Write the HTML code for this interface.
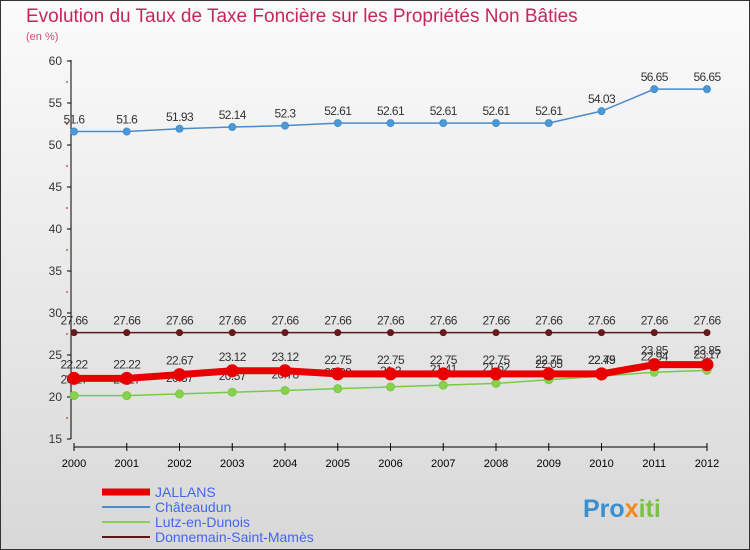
<!DOCTYPE html>
<html><head><meta charset="utf-8"><style>
body{margin:0;width:750px;height:550px;overflow:hidden;font-family:"Liberation Sans",sans-serif}
#wrap{position:absolute;left:0;top:0;width:748px;height:548px;border:1px solid #333;background:linear-gradient(#fbfbfb,#d8d8d8)}
</style></head><body>
<div id="wrap">
<svg id="chart" width="750" height="550" style="position:absolute;left:-1px;top:-1px">
<text x="26" y="22" font-size="19" fill="#c8265a">Evolution du Taux de Taxe Foncière sur les Propriétés Non Bâties</text>
<text x="26" y="40" font-size="11" fill="#d24a78">(en %)</text>
<g id="axes"></g><g id="series"></g><g id="legend"></g>
<text x="583" y="517" font-size="25" font-weight="bold" fill="#3a8fd0">Pro<tspan fill="#f08a1c">x</tspan><tspan fill="#7cc242">iti</tspan></text>
</svg></div>
<script>
const years=['2000','2001','2002','2003','2004','2005','2006','2007','2008','2009','2010','2011','2012'];
const yTicks=[15,20,25,30,35,40,45,50,55,60];
const jallans=[22.22,22.22,22.67,23.12,23.12,22.75,22.75,22.75,22.75,22.75,22.75,23.85,23.85];
const chateaudun=[51.6,51.6,51.93,52.14,52.3,52.61,52.61,52.61,52.61,52.61,54.03,56.65,56.65];
const lutz=[20.17,20.17,20.37,20.57,20.78,20.99,21.2,21.41,21.62,22.05,22.49,22.94,23.17];
const donnemain=[27.66,27.66,27.66,27.66,27.66,27.66,27.66,27.66,27.66,27.66,27.66,27.66,27.66];
const NS='http://www.w3.org/2000/svg';
const x=i=>74+i*52.75, y=v=>439-(v-15)*(378/45);
function mk(t,a,p){const e=document.createElementNS(NS,t);for(const k in a)e.setAttribute(k,a[k]);p.appendChild(e);return e;}
const ax=document.getElementById('axes');
let l=mk('line',{x1:71,y1:60,x2:71,y2:439,stroke:'#000'},ax);

l=mk('line',{x1:74,y1:447,x2:707,y2:447,stroke:'#000'},ax);

yTicks.forEach(v=>{mk('line',{x1:67,y1:y(v),x2:71,y2:y(v),stroke:'#000'},ax);
 if(v<60) mk('line',{x1:66,y1:y(v+2.5),x2:68,y2:y(v+2.5),stroke:'#d00'},ax);
 const t=mk('text',{x:62,y:y(v)+4,'font-size':12,'text-anchor':'end',fill:'#333'},ax);t.textContent=v;
 });
years.forEach((yr,i)=>{mk('line',{x1:x(i),y1:443,x2:x(i),y2:451,stroke:'#000'},ax);
 const t=mk('text',{x:x(i),y:467,'font-size':11,'text-anchor':'middle',fill:'#000'},ax);t.textContent=yr;
 });
const sg=document.getElementById('series');
function draw(name,arr,color,w,r,fill,lab){
 const g=mk('g',{},sg);
 const p=mk('polyline',{points:arr.map((v,i)=>x(i)+','+y(v)).join(' '),fill:'none',stroke:color,'stroke-width':w},g);
 
 arr.forEach((v,i)=>{const c=mk('circle',{cx:x(i),cy:y(v),r:r,fill:fill,stroke:color,'stroke-width':1},g);
  
  const t=mk('text',{x:x(i),y:y(v)-(lab||8),'font-size':12,'text-anchor':'middle',fill:'#333','letter-spacing':'-0.6'},g);t.textContent=v;
  });
}
draw('donnemain',donnemain,'#5a1a1a',1.5,3,'#6b1a1a');
draw('chateaudun',chateaudun,'#4a8cc8',1.5,3.5,'#4a9ad8');
draw('lutz',lutz,'#77cc44',1.5,4,'#88d050',12);
draw('jallans',jallans,'#e80000',7,6,'#e80000',10);
const lg=document.getElementById('legend');
[['JALLANS','#e80000',7],['Châteaudun','#4a8cc8',2],['Lutz-en-Dunois','#88d050',2],['Donnemain-Saint-Mamès','#5a1a1a',2]].forEach((s,i)=>{
 const g=mk('g',{},lg);
 const yy=492+i*15;mk('line',{x1:102,y1:yy,x2:150,y2:yy,stroke:s[1],'stroke-width':s[2]},g);
 const t=mk('text',{x:155,y:yy+5,'font-size':14,fill:'#4466ee'},g);t.textContent=s[0];});
</script>
</body></html>
